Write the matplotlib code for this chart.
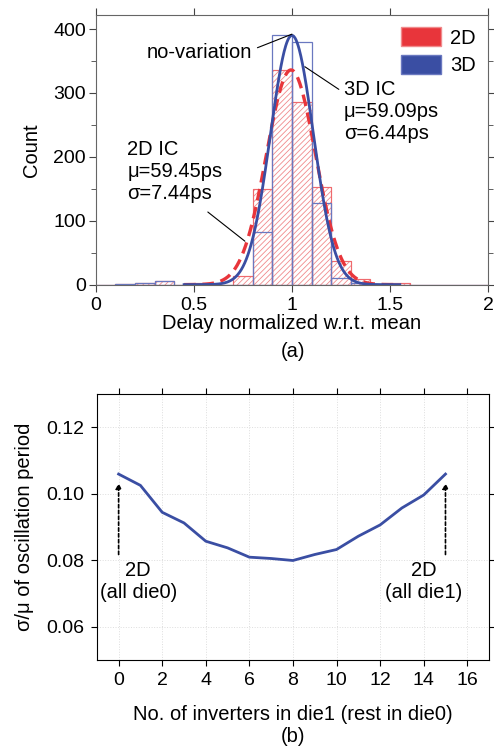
import matplotlib
matplotlib.use('Agg')
import matplotlib.pyplot as plt
import numpy as np
from matplotlib.patches import Patch

plt.rcParams['font.family'] = ['Liberation Sans', 'DejaVu Sans']
plt.rcParams['hatch.linewidth'] = 0.6

# DATA
# (a) histogram of normalized delay, bin width 0.1
bin_edges = np.round(np.arange(0.0, 2.01, 0.1), 2)
counts_2d = [0, 1, 2, 5, 0, 2, 0, 14, 150, 336, 286, 152, 37, 9, 0, 3, 0, 0, 0, 0]
counts_3d = [0, 1, 3, 5, 0, 0, 0, 0, 82, 391, 380, 128, 10, 2, 0, 0, 0, 0, 0, 0]
# fitted normal curves: mean (normalized), sigma (normalized), peak count
fit_2d = dict(mu=0.995, sigma=7.44 / 59.45, peak=336)
fit_3d = dict(mu=1.0, sigma=6.44 / 59.09, peak=390)

# (b) sigma/mu vs number of inverters in die1
n_inv = list(range(16))
sigma_mu = [0.1059, 0.1025, 0.0944, 0.0912, 0.0857, 0.0837, 0.0809, 0.0805,
            0.0799, 0.0817, 0.0832, 0.0872, 0.0906, 0.0957, 0.0996, 0.1059]

red = '#e8353b'
blue = '#3a4ea3'
fs = 14.5

fig = plt.figure(figsize=(4.94, 7.49), dpi=100)

# ---------- (a) ----------
ax1 = fig.add_axes([0.194, 0.620, 0.794, 0.360])
widths = np.diff(bin_edges)
ax1.bar(bin_edges[:-1], counts_2d, width=widths, align='edge', facecolor='none',
        edgecolor='#f08a8c', hatch='//////', linewidth=0.8)
ax1.bar(bin_edges[:-1], counts_2d, width=widths, align='edge', facecolor='none',
        edgecolor='#ef6a6e', linewidth=0.8)
ax1.bar(bin_edges[:-1], counts_3d, width=widths, align='edge', facecolor='none',
        edgecolor='#6a78c0', linewidth=0.9)

xs = np.linspace(0.45, 1.55, 400)
for fit, style, c, lw in [(fit_2d, (0, (3.5, 2)), red, 2.4), (fit_3d, '-', blue, 2.0)]:
    ys = fit['peak'] * np.exp(-(xs - fit['mu']) ** 2 / (2 * fit['sigma'] ** 2))
    ax1.plot(xs, ys, linestyle=style, color=c, linewidth=lw)

ax1.set_xlim(0, 2)
ax1.set_ylim(0, 422)
ax1.set_xticks([0, 0.5, 1, 1.5, 2])
ax1.set_xticklabels(['0', '0.5', '1', '1.5', '2'])
ax1.set_yticks([0, 100, 200, 300, 400])
ax1.set_yticks(np.arange(0, 421, 50), minor=True)
ax1.tick_params(which='both', direction='out', top=True, right=True, labelsize=14,
                color='#444444')
ax1.tick_params(axis='x', pad=4)
ax1.tick_params(axis='y', pad=2)
ax1.tick_params(which='major', length=5)
ax1.tick_params(which='minor', length=3.5)
for s in ax1.spines.values():
    s.set_color('#666666')
ax1.set_xlabel('Delay normalized w.r.t. mean', fontsize=fs, labelpad=0)
ax1.set_ylabel('Count', fontsize=fs, labelpad=9)

ax1.annotate('no-variation', xy=(1.0, 392), xytext=(0.528, 363), fontsize=fs,
             ha='center', va='center',
             arrowprops=dict(arrowstyle='-', color='black', lw=0.8, shrinkA=2, shrinkB=0,
                             relpos=(1.0, 0.65)))
ax1.annotate('3D IC\nμ=59.09ps\nσ=6.44ps', xy=(1.066, 341), xytext=(1.265, 320),
             fontsize=fs, ha='left', va='top', linespacing=1.2,
             arrowprops=dict(arrowstyle='-', color='black', lw=0.8, shrinkA=2, shrinkB=0,
                             relpos=(0.0, 0.80)))
ax1.annotate('2D IC\nμ=59.45ps\nσ=7.44ps', xy=(0.76, 68), xytext=(0.16, 226),
             fontsize=fs, ha='left', va='top', linespacing=1.2,
             arrowprops=dict(arrowstyle='-', color='black', lw=0.8, shrinkA=7, shrinkB=0,
                             relpos=(0.73, 0.0)))

handles = [Patch(facecolor=red, edgecolor='#f08a8c', label='2D'),
           Patch(facecolor=blue, edgecolor='#6a78c0', label='3D')]
ax1.legend(handles=handles, loc='upper right', frameon=False, fontsize=fs,
           handlelength=2.0, handleheight=1.1, borderaxespad=0.2, labelspacing=0.35,
           handletextpad=0.45)
fig.text(0.593, 0.531, '(a)', fontsize=fs, ha='center', va='center')

# ---------- (b) ----------
ax2 = fig.add_axes([0.196, 0.119, 0.794, 0.355])
ax2.plot(n_inv, sigma_mu, color=blue, linewidth=2.0)
ax2.set_xlim(-1, 17)
ax2.set_ylim(0.05, 0.13)
ax2.set_xticks(range(0, 17, 2))
ax2.set_yticks([0.06, 0.08, 0.10, 0.12])
ax2.set_yticklabels(['0.06', '0.08', '0.10', '0.12'])
ax2.grid(True, color='#dddddd', linestyle=':', linewidth=0.7)
ax2.tick_params(direction='out', top=True, right=True, length=4, labelsize=14, pad=5)
ax2.set_xlabel('No. of inverters in die1 (rest in die0)', fontsize=fs, labelpad=11)
ax2.set_ylabel('σ/μ of oscillation period', fontsize=fs, labelpad=9)

for x0, lab, tx in [(0, '2D\n(all die0)', 0.9), (15, '2D\n(all die1)', 14.0)]:
    ax2.annotate('', xy=(x0, 0.1032), xytext=(x0, 0.0817),
                 arrowprops=dict(arrowstyle='-|>', linestyle=(0, (2, 1.5)), color='black',
                                 lw=1.2, mutation_scale=8, shrinkA=0, shrinkB=0))
    ax2.text(tx, 0.0736, lab, fontsize=fs, ha='center', va='center', linespacing=1.15)

fig.text(0.593, 0.004, '(b)', fontsize=fs, ha='center', va='bottom')

fig.savefig('out.png', dpi=100)
